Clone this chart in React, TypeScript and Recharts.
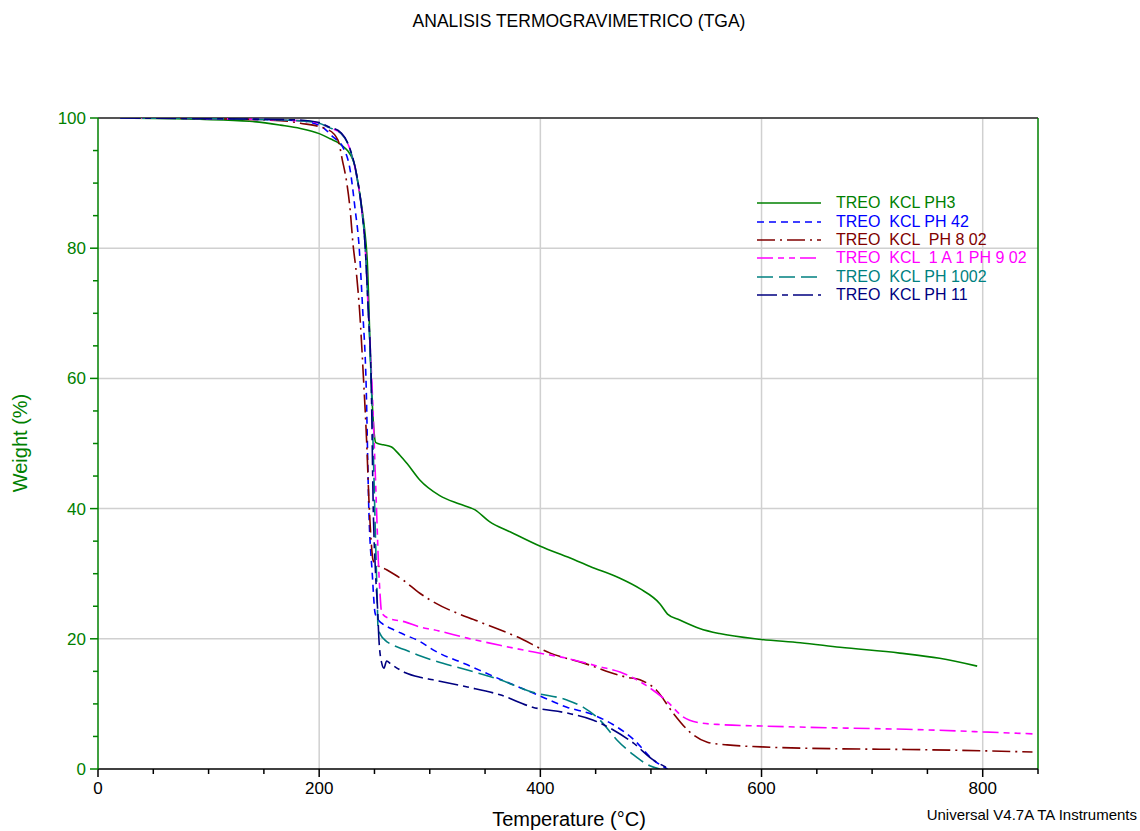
import React from "react";
import { CartesianGrid, Line, LineChart, ReferenceLine, XAxis, YAxis } from "recharts";

const tempTicks = [0, 50, 100, 150, 200, 250, 300, 350, 400, 450, 500, 550, 600, 650, 700, 750, 800, 850];
const weightTicks = [0, 5, 10, 15, 20, 25, 30, 35, 40, 45, 50, 55, 60, 65, 70, 75, 80, 85, 90, 95, 100];

// [temperature °C, weight %]
const ph3: [number, number][] = [
  [20, 100], [92, 99.8], [137, 99.5], [165, 98.9], [183, 98.4], [200, 97.6], [210, 96.8], [219, 96],
  [231, 93.4], [237, 88], [241, 83], [243.5, 78], [247, 60], [249.5, 52], [251, 50.2], [253, 50],
  [258, 49.8], [265, 49.5], [273, 48.2], [280, 46.8], [291, 44.4], [309, 42], [327, 40.7], [341, 39.8],
  [354, 38], [373, 36.4], [400, 34.2], [427, 32.4], [445, 31.1], [472, 29.3], [490, 27.7], [508, 25.4],
  [515, 23.8], [526, 22.9], [544, 21.6], [562, 20.8], [600, 19.9], [635, 19.4], [671, 18.7], [725, 17.8],
  [761, 17.0], [795, 15.8],
];

const ph42: [number, number][] = [
  [20, 100], [100, 99.9], [180, 99.6], [200, 98.9], [212.5, 97.1], [221.5, 95.5], [228, 92], [232.5, 86],
  [236, 80.5], [239.5, 70], [242.3, 60], [245, 39.3], [248, 30], [250.5, 24], [253, 23], [256.5, 22.4],
  [266, 21.5], [277.6, 20.6], [291, 19.6], [303, 18.3], [334, 16], [363.5, 13.8], [393, 11.7], [424, 9.5],
  [448, 8.3], [466, 6.8], [484, 4.6], [502, 1.4], [515, 0],
];

const ph802: [number, number][] = [
  [20, 100], [100, 99.9], [165, 99.6], [183, 99.2], [208, 98.2], [217, 96.6], [221, 93.5], [225, 90],
  [228, 85.9], [230.5, 80.8], [234, 75.6], [236.5, 70.5], [240, 60.2], [243, 50], [245, 41.3], [247, 35],
  [248.7, 32.1], [250.5, 31.6], [261, 30.6], [276, 29], [291, 27], [300, 26], [348, 22.4], [379, 20.3],
  [409, 17.8], [438.6, 16.3], [478, 14.1], [490, 13.7], [505, 12.1], [520, 8.6], [535, 5.7], [551, 4.1],
  [569, 3.7], [600, 3.4], [671, 3.1], [731, 3.0], [800, 2.8], [845, 2.6],
];

const ph902: [number, number][] = [
  [20, 100], [100, 99.9], [180, 99.6], [200, 99.2], [208, 98.6], [220, 97.6], [228, 95.1], [234, 91],
  [238.5, 85.9], [241.4, 80.8], [244.4, 70.5], [247.5, 60], [252, 39.3], [253.5, 32], [255, 27], [256.5, 24],
  [262, 23.2], [277.6, 22.6], [291, 21.8], [303, 21.4], [334, 20.1], [363.5, 19], [393, 18], [424, 17],
  [454, 15.7], [472, 14.9], [484, 14], [496, 12.8], [514.5, 10.4], [529, 8], [544, 7.1], [565, 6.8],
  [600, 6.6], [671, 6.3], [731, 6.1], [800, 5.7], [845, 5.4],
];

const ph1002: [number, number][] = [
  [20, 100], [100, 99.9], [180, 99.6], [200, 99.2], [208, 98.6], [220, 97.6], [228, 95.1], [234, 91],
  [238.5, 85.9], [241.4, 80.8], [244.4, 70.5], [247, 60], [249.5, 45], [251, 35], [252.5, 26], [253.2, 21.8],
  [256, 20.5], [259.5, 19.8], [267, 19], [277.6, 18.3], [291, 17.4], [303, 16.7], [334, 15.2], [363.5, 13.7],
  [393, 11.8], [424, 10.6], [438.6, 9.5], [454, 7.5], [469, 4.5], [484, 2.2], [499, 0.5], [508, 0],
];

const ph11: [number, number][] = [
  [20, 100], [100, 99.9], [180, 99.7], [200, 99.3], [208, 98.7], [220, 97.7], [228, 95.2], [234, 91.2],
  [238.5, 86], [241.4, 80.8], [244.4, 70.5], [247, 60], [249, 39.3], [251, 30], [253, 24], [254, 20],
  [256.5, 16.3], [258.6, 15.5], [261, 16.6], [265, 16.1], [278, 14.8], [291, 14.1], [303, 13.7], [334, 12.6],
  [363.5, 11.4], [393, 9.5], [424, 8.6], [448, 7.5], [466, 6.0], [484, 4.0], [502, 1.4], [517, 0],
];

const series = [
  { name: "TREO  KCL PH3", data: ph3, color: "#008000", dash: undefined },
  { name: "TREO  KCL PH 42", data: ph42, color: "#0000ff", dash: "7 5" },
  { name: "TREO  KCL  PH 8 02", data: ph802, color: "#800000", dash: "18 5 2 5" },
  { name: "TREO  KCL  1 A 1 PH 9 02", data: ph902, color: "#ff00ff", dash: "16 5 6 5 6 5" },
  { name: "TREO  KCL PH 1002", data: ph1002, color: "#008080", dash: "16 6" },
  { name: "TREO  KCL PH 11", data: ph11, color: "#000080", dash: "20 5 6 5" },
];

const font = "'Liberation Sans', Arial, sans-serif";

function XTick(props: any) {
  const { x, y, payload } = props;
  const major = payload.value % 200 === 0;
  return (
    <g>
      <line x1={x} x2={x} y1={y} y2={y + (major ? 8 : 5)} stroke="#000" strokeWidth={1.5} />
      {major ? (
        <text x={x} y={y + 25} textAnchor="middle" fontSize={17} fill="#000" fontFamily={font}>
          {payload.value}
        </text>
      ) : null}
    </g>
  );
}

function YTick(props: any) {
  const { x, y, payload } = props;
  const major = payload.value % 20 === 0;
  return (
    <g>
      <line x1={x} x2={x - (major ? 8 : 5)} y1={y} y2={y} stroke="#008000" strokeWidth={1.5} />
      {major ? (
        <text x={x - 12} y={y + 6} textAnchor="end" fontSize={17} fill="#008000" fontFamily={font}>
          {payload.value}
        </text>
      ) : null}
    </g>
  );
}

export default function App() {
  return (
    <div style={{ position: "absolute", left: 0, top: 0, width: 1140, height: 831, background: "#fff", fontFamily: font }}>
      <div style={{ position: "absolute", top: 11, left: 579, transform: "translateX(-50%)", fontSize: 17.5, whiteSpace: "nowrap" }}>
        ANALISIS TERMOGRAVIMETRICO (TGA)
      </div>
      <LineChart width={1140} height={831} margin={{ top: 118, right: 102, bottom: 22, left: 38 }}>
        <CartesianGrid
          stroke="#d0d0d0"
          strokeWidth={1.5}
          horizontalValues={[20, 40, 60, 80]}
          verticalValues={[200, 400, 600, 800]}
        />
        <XAxis
          type="number"
          dataKey="t"
          domain={[0, 850]}
          ticks={tempTicks}
          interval={0}
          height={40}
          tickSize={0}
          tickMargin={0}
          tickLine={false}
          tick={<XTick />}
          axisLine={{ stroke: "#000", strokeWidth: 1.5 }}
          allowDataOverflow
        />
        <YAxis
          type="number"
          dataKey="w"
          domain={[0, 100]}
          ticks={weightTicks}
          interval={0}
          width={60}
          tickSize={0}
          tickMargin={0}
          tickLine={false}
          tick={<YTick />}
          axisLine={{ stroke: "#008000", strokeWidth: 1.5 }}
          allowDataOverflow
        />
        <ReferenceLine y={100} stroke="#555" strokeWidth={2} />
        <ReferenceLine x={850} stroke="#008000" strokeWidth={1.5} />
        {series.map((s) => (
          <Line
            key={s.name}
            data={s.data.map(([t, w]) => ({ t, w }))}
            dataKey="w"
            name={s.name}
            type="monotone"
            stroke={s.color}
            strokeWidth={1.6}
            strokeDasharray={s.dash}
            dot={false}
            isAnimationActive={false}
          />
        ))}
      </LineChart>
      <div style={{ position: "absolute", left: 757, top: 194 }}>
        {series.map((s) => (
          <div key={s.name} style={{ display: "flex", alignItems: "center", height: 18.4 }}>
            <svg width={64} height={10} style={{ marginRight: 15 }}>
              <line x1={0} x2={64} y1={5} y2={5} stroke={s.color} strokeWidth={1.5} strokeDasharray={s.dash} />
            </svg>
            <span style={{ color: s.color, fontSize: 16, whiteSpace: "pre" }}>{s.name}</span>
          </div>
        ))}
      </div>
      <div
        style={{
          position: "absolute",
          left: 20,
          top: 443,
          transform: "translate(-50%, -50%) rotate(-90deg)",
          color: "#008000",
          fontSize: 20,
          whiteSpace: "nowrap",
        }}
      >
        Weight (%)
      </div>
      <div style={{ position: "absolute", left: 569, top: 808, transform: "translateX(-50%)", fontSize: 20, whiteSpace: "nowrap" }}>
        Temperature (°C)
      </div>
      <div style={{ position: "absolute", right: 3, top: 806, fontSize: 15, whiteSpace: "nowrap" }}>
        Universal V4.7A TA Instruments
      </div>
    </div>
  );
}
